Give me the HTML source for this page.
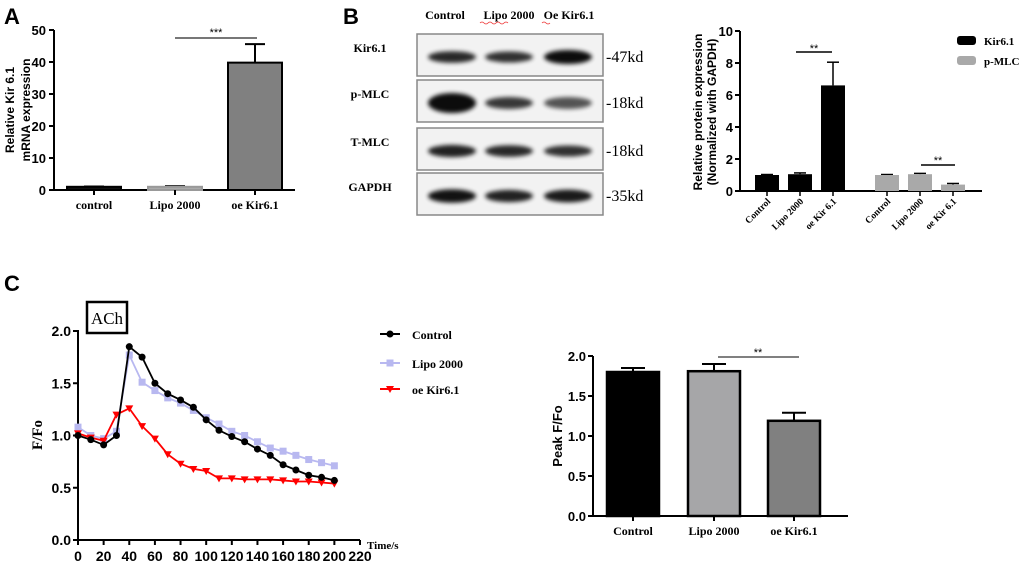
<!DOCTYPE html>
<html><head><meta charset="utf-8">
<style>
html,body{margin:0;padding:0;background:#fff;}
svg{display:block;}
text{font-family:"Liberation Sans",Arial,sans-serif;}
.ser{font-family:"Liberation Serif","Times New Roman",serif;font-weight:bold;}
.serr{font-family:"Liberation Serif","Times New Roman",serif;font-weight:normal;}
</style></head>
<body>
<svg id="fig" width="1020" height="567" viewBox="0 0 1020 567" xmlns="http://www.w3.org/2000/svg">
<defs>
<filter id="blur" x="-20%" y="-50%" width="140%" height="200%"><feGaussianBlur stdDeviation="2.2"/></filter>
</defs>
<text x="4" y="24" font-size="22" font-weight="bold">A</text>
<text x="343" y="24" font-size="22" font-weight="bold">B</text>
<text x="4" y="291" font-size="22" font-weight="bold">C</text>
<g id="blot"></g>
<g id="ga"></g>
<g id="gb"></g>
<g id="gc"></g>
<g id="gd"></g>
</svg>
<script>
// ---- data ----
const aCats = ["control","Lipo 2000","oe Kir6.1"];
const aVals = [1.0, 1.0, 39.8];
const aErr = [0.1, 0.2, 5.8];
const aTicks = [0,10,20,30,40,50];

const bCats = ["Control","Lipo 2000","oe Kir 6.1"];
const bKir = [1.0, 1.05, 6.6];
const bKirErr = [0.03, 0.08, 1.45];
const bMlc = [1.0, 1.05, 0.4];
const bMlcErr = [0.03, 0.05, 0.07];
const bTicks = [0,2,4,6,8,10];

const cTimes = [0,10,20,30,40,50,60,70,80,90,100,110,120,130,140,150,160,170,180,190,200];
const cControl = [1.0,0.96,0.91,1.0,1.85,1.75,1.5,1.4,1.34,1.27,1.15,1.05,0.99,0.94,0.87,0.81,0.72,0.67,0.62,0.60,0.57];
const cLipo = [1.08,1.0,0.97,1.04,1.77,1.51,1.43,1.36,1.31,1.24,1.17,1.11,1.04,1.0,0.94,0.88,0.85,0.81,0.77,0.74,0.71];
const cOe = [1.02,0.98,0.95,1.2,1.26,1.09,0.97,0.82,0.73,0.68,0.66,0.59,0.59,0.58,0.58,0.58,0.57,0.56,0.56,0.55,0.54];
const cXTicks = [0,20,40,60,80,100,120,140,160,180,200,220];
const cYTicks = [0.0,0.5,1.0,1.5,2.0];

const dCats = ["Control","Lipo 2000","oe Kir6.1"];
const dVals = [1.8, 1.81, 1.19];
const dErr = [0.05, 0.09, 0.1];
const dTicks = [0.0,0.5,1.0,1.5,2.0];

const blotRows = ["Kir6.1","p-MLC","T-MLC","GAPDH"];
const blotKd = ["-47kd","-18kd","-18kd","-35kd"];
const blotLanes = ["Control","Lipo 2000","Oe Kir6.1"];
const blotIntensity = [[0.8,0.75,1.0],[1.0,0.7,0.5],[0.85,0.8,0.75],[0.95,0.85,0.9]];

// ---- helpers ----
const NS="http://www.w3.org/2000/svg";
function mk(parent,tag,attrs,txt){const e=document.createElementNS(NS,tag);for(const k in attrs)e.setAttribute(k,attrs[k]);if(txt!==undefined)e.textContent=txt;parent.appendChild(e);return e;}
function lin(d0,d1,r0,r1){return v=>r0+(v-d0)*(r1-r0)/(d1-d0);}

// ---- Panel A ----
(function(){
 const g=document.getElementById('ga');
 const y=lin(0,50,190,30);
 const xC=[94,175,255], bw=54, fills=["#111","#aaa","#808080"];
 mk(g,'line',{x1:54,y1:30,x2:54,y2:191,stroke:'#000','stroke-width':2});
 mk(g,'line',{x1:53,y1:190,x2:295,y2:190,stroke:'#000','stroke-width':2});
 aTicks.forEach(t=>{mk(g,'line',{x1:49,y1:y(t),x2:54,y2:y(t),stroke:'#000','stroke-width':2});
  const tx=mk(g,'text',{x:46,y:y(t)+5,'font-size':13,'font-weight':'bold','text-anchor':'end'},String(t));
  });
 aCats.forEach((c,i)=>{
  const top=y(aVals[i]);
  mk(g,'line',{x1:xC[i],y1:y(aVals[i]+aErr[i]),x2:xC[i],y2:top,stroke:'#000','stroke-width':2});
  mk(g,'line',{x1:xC[i]-10,y1:y(aVals[i]+aErr[i]),x2:xC[i]+10,y2:y(aVals[i]+aErr[i]),stroke:'#000','stroke-width':2});
  const r=mk(g,'rect',{x:xC[i]-bw/2,y:top,width:bw,height:Math.max(190-top,2),fill:fills[i],stroke:i==1?'#999':'#000','stroke-width':2});
  
  mk(g,'line',{x1:xC[i],y1:190,x2:xC[i],y2:195,stroke:'#000','stroke-width':2});
  const t=mk(g,'text',{x:xC[i],y:209,'font-size':12,'text-anchor':'middle',class:'ser'},c);
  
 });
 mk(g,'line',{x1:175,y1:38,x2:257,y2:38,stroke:'#777','stroke-width':2});
 mk(g,'text',{x:216,y:36,'font-size':11,'text-anchor':'middle'},'***');
 const yt=mk(g,'text',{transform:'translate(14,110) rotate(-90)','font-size':12,'font-weight':'bold','text-anchor':'middle'});
 mk(yt,'tspan',{x:0,dy:0},'Relative Kir 6.1');mk(yt,'tspan',{x:0,dy:16},'mRNA  expression');
 
})();

// ---- Blot ----
(function(){
 const g=document.getElementById('blot');
 const lx=[452,509,568];
 blotLanes.forEach((l,i)=>{const t=mk(g,'text',{x:[445,509,569][i],y:19,'font-size':12,'text-anchor':'middle',class:'ser'},l);
  });
 mk(g,'path',{d:'M480 23 q2 -2 4 0 t4 0 t4 0 t4 0 t4 0 t4 0 t4 0 M542 23 q2 -2 4 0 t4 0',stroke:'#e33',fill:'none','stroke-width':0.8});
 const ys=[34,80,128,173], h=42;
 blotRows.forEach((r,j)=>{
  const by=ys[j];
  const box=mk(g,'rect',{x:417,y:by,width:186,height:h,fill:'#f2f2f2',stroke:'#888','stroke-width':1.5});
  
  blotIntensity[j].forEach((v,i)=>{
   const hh=j==1?(v>0.9?20:12):12*v+2;
   mk(g,'ellipse',{cx:lx[i],cy:by+h/2+2,rx:24,ry:hh/2,fill:'#000',opacity:0.35+0.6*v,filter:'url(#blur)'});
  });
  const t=mk(g,'text',{x:370,y:by+18,'font-size':12,'text-anchor':'middle',class:'ser'},r);
  
  const k=mk(g,'text',{x:606,y:by+28,'font-size':16,class:'serr'},blotKd[j]);
  
 });
})();

// ---- Panel B chart ----
(function(){
 const g=document.getElementById('gb');
 const y=lin(0,10,191,31);
 const kx=[767,800,833], mx=[887,920,953], bw=24;
 mk(g,'line',{x1:740,y1:31,x2:740,y2:192,stroke:'#000','stroke-width':2});
 mk(g,'line',{x1:739,y1:191,x2:982,y2:191,stroke:'#000','stroke-width':2});
 bTicks.forEach(t=>{mk(g,'line',{x1:735,y1:y(t),x2:740,y2:y(t),stroke:'#000','stroke-width':2});
  const tx=mk(g,'text',{x:733,y:y(t)+5,'font-size':13,'font-weight':'bold','text-anchor':'end'},String(t));
  });
 function bars(xs,vals,errs,fill,name){
  xs.forEach((cx,i)=>{
   const top=y(vals[i]), et=y(vals[i]+errs[i]);
   mk(g,'line',{x1:cx,y1:et,x2:cx,y2:top,stroke:'#000','stroke-width':1.5});
   mk(g,'line',{x1:cx-6,y1:et,x2:cx+6,y2:et,stroke:'#000','stroke-width':1.5});
   const r=mk(g,'rect',{x:cx-bw/2,y:top,width:bw,height:191-top,fill:fill});
   
   mk(g,'line',{x1:cx,y1:191,x2:cx,y2:196,stroke:'#000','stroke-width':1.5});
   const t=mk(g,'text',{transform:`translate(${cx+4},${202}) rotate(-45)`,'font-size':9.5,'text-anchor':'end',class:'ser'},bCats[i]);
   
  });
 }
 bars(kx,bKir,bKirErr,'#000','kir');
 bars(mx,bMlc,bMlcErr,'#a9a9a9','pmlc');
 mk(g,'line',{x1:796,y1:52,x2:832,y2:52,stroke:'#000','stroke-width':1.5});
 mk(g,'text',{x:814,y:52,'font-size':11,'text-anchor':'middle'},'**');
 mk(g,'line',{x1:921,y1:165,x2:955,y2:165,stroke:'#000','stroke-width':1.5});
 mk(g,'text',{x:938,y:164,'font-size':11,'text-anchor':'middle'},'**');
 const yt=mk(g,'text',{transform:'translate(702,112) rotate(-90)','font-size':12,'font-weight':'bold','text-anchor':'middle'});
 mk(yt,'tspan',{x:0,dy:0},'Relative protein expression');mk(yt,'tspan',{x:0,dy:14},'(Normalized with GAPDH)');
 
 const l1=mk(g,'rect',{x:957,y:36,width:19,height:9,rx:3,fill:'#000'});
 
 const l2=mk(g,'rect',{x:957,y:56,width:19,height:9,rx:3,fill:'#a9a9a9'});
 
 mk(g,'text',{x:984,y:45,'font-size':11,class:'ser'},'Kir6.1');
 mk(g,'text',{x:984,y:65,'font-size':11,class:'ser'},'p-MLC');
})();

// ---- Panel C line chart ----
(function(){
 const g=document.getElementById('gc');
 const x=lin(0,220,78,360), y=lin(0,2,540,331);
 mk(g,'line',{x1:78,y1:330,x2:78,y2:541,stroke:'#000','stroke-width':2});
 mk(g,'line',{x1:77,y1:540,x2:360,y2:540,stroke:'#000','stroke-width':2});
 cXTicks.forEach(t=>{mk(g,'line',{x1:x(t),y1:540,x2:x(t),y2:545,stroke:'#000','stroke-width':2});
  const tx=mk(g,'text',{x:x(t),y:561,'font-size':14,'font-weight':'bold','text-anchor':'middle'},String(t));
  });
 cYTicks.forEach(t=>{mk(g,'line',{x1:73,y1:y(t),x2:78,y2:y(t),stroke:'#000','stroke-width':2});
  const tx=mk(g,'text',{x:71,y:y(t)+5,'font-size':14,'font-weight':'bold','text-anchor':'end'},t.toFixed(1));
  });
 mk(g,'text',{x:367,y:549,'font-size':11,class:'ser'},'Time/s');
 const yt=mk(g,'text',{transform:'translate(42,435) rotate(-90)','font-size':15,'text-anchor':'middle',class:'ser'},'F/Fo');
 
 const ab=mk(g,'rect',{x:87,y:302,width:40,height:31,fill:'#fff',stroke:'#000','stroke-width':2.5});
 
 mk(g,'text',{x:107,y:324,'font-size':17,'text-anchor':'middle',class:'serr'},'ACh');
 function series(vals,color,shape,name){
  const pts=cTimes.map((t,i)=>x(t)+','+y(vals[i])).join(' ');
  const pl=mk(g,'polyline',{points:pts,fill:'none',stroke:color,'stroke-width':1.8});
  
  cTimes.forEach((t,i)=>{
   const cx=x(t),cy=y(vals[i]);let m;
   if(shape=='c')m=mk(g,'circle',{cx:cx,cy:cy,r:3.5,fill:color});
   else if(shape=='s')m=mk(g,'rect',{x:cx-3.5,y:cy-3.5,width:7,height:7,fill:color});
   else m=mk(g,'polygon',{points:`${cx-4},${cy-3} ${cx+4},${cy-3} ${cx},${cy+4}`,fill:color});
   
  });
 }
 series(cLipo,'#b8b8f0','s','lipo');
 series(cOe,'#ff0000','t','oe');
 series(cControl,'#000','c','control');
 const lg=[['Control','#000','c',334],['Lipo 2000','#b8b8f0','s',363],['oe Kir6.1','#ff0000','t',389]];
 lg.forEach(([n,c,s,ly])=>{
  mk(g,'line',{x1:380,y1:ly,x2:400,y2:ly,stroke:c,'stroke-width':2});
  if(s=='c')mk(g,'circle',{cx:390,cy:ly,r:3.5,fill:c});
  else if(s=='s')mk(g,'rect',{x:386.5,y:ly-3.5,width:7,height:7,fill:c});
  else mk(g,'polygon',{points:`386,${ly-3} 394,${ly-3} 390,${ly+4}`,fill:c});
  const t=mk(g,'text',{x:412,y:ly+5,'font-size':12,class:'ser'},n);
  
 });
})();

// ---- Panel C bar chart ----
(function(){
 const g=document.getElementById('gd');
 const y=lin(0,2,516,356);
 const xC=[633,714,794], bw=52, fills=['#000','#a6a6a8','#808080'];
 mk(g,'line',{x1:593,y1:356,x2:593,y2:517,stroke:'#000','stroke-width':2});
 mk(g,'line',{x1:592,y1:516,x2:848,y2:516,stroke:'#000','stroke-width':2});
 dTicks.forEach(t=>{mk(g,'line',{x1:588,y1:y(t),x2:593,y2:y(t),stroke:'#000','stroke-width':2});
  const tx=mk(g,'text',{x:586,y:y(t)+5,'font-size':13,'font-weight':'bold','text-anchor':'end'},t.toFixed(1));
  });
 dCats.forEach((c,i)=>{
  const top=y(dVals[i]), et=y(dVals[i]+dErr[i]);
  mk(g,'line',{x1:xC[i],y1:et,x2:xC[i],y2:top,stroke:'#000','stroke-width':2});
  mk(g,'line',{x1:xC[i]-12,y1:et,x2:xC[i]+12,y2:et,stroke:'#000','stroke-width':2});
  const r=mk(g,'rect',{x:xC[i]-bw/2,y:top,width:bw,height:516-top,fill:fills[i],stroke:'#000','stroke-width':2.5});
  
  mk(g,'line',{x1:xC[i],y1:516,x2:xC[i],y2:521,stroke:'#000','stroke-width':2});
  const t=mk(g,'text',{x:xC[i],y:535,'font-size':12,'text-anchor':'middle',class:'ser'},c);
  
 });
 mk(g,'line',{x1:718,y1:357,x2:799,y2:357,stroke:'#000','stroke-width':1});
 mk(g,'text',{x:758,y:356,'font-size':11,'text-anchor':'middle'},'**');
 const yt=mk(g,'text',{transform:'translate(562,436) rotate(-90)','font-size':13,'font-weight':'bold','text-anchor':'middle'},'Peak F/Fo');
 
})();
</script>
</body></html>
